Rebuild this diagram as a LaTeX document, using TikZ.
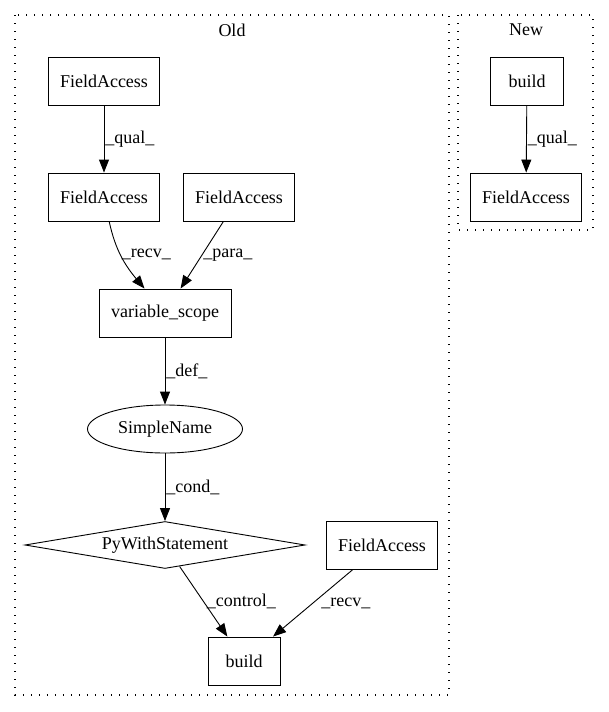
\documentclass[tikz,border=0pt]{standalone}
\usepackage{fontspec}
\setmainfont{Liberation Serif}
\usetikzlibrary{arrows.meta,shapes.geometric}
\begin{document}
\begin{tikzpicture}[x=1pt,y=1pt,font=\fontsize{18}{21}\selectfont,
  box/.style={draw,line width=0.9pt,minimum height=48pt,inner sep=0pt},
  edge/.style={line width=0.9pt,-{Triangle[length=13pt,width=10pt]}},
  lbl/.style={right,inner sep=1pt},
  cluster/.style={line width=1.2pt,dash pattern=on 1.2pt off 6.8pt}]
\useasboundingbox (0,0) rectangle (609,-712);
% clusters
\draw[cluster] (15,-15) rectangle (449,-695);
\draw[cluster] (458,-15) rectangle (593,-230);
\node (old) at (232,-30) {Old};
\node (new) at (526,-30) {New};
% Old
\node[box,minimum width=111pt] (fa1) at (104,-81) {FieldAccess};
\node[box,minimum width=111pt] (fa2) at (104,-197) {FieldAccess};
\node[box,minimum width=111pt] (fa3) at (239,-197) {FieldAccess};
\node[box,minimum width=132pt] (vs) at (165,-313) {variable\_scope};
\node[draw,ellipse,line width=0.9pt,minimum width=155pt,minimum height=48pt,inner sep=0pt] (sn) at (165,-429) {SimpleName};
\node[draw,diamond,line width=0.9pt,aspect=6,minimum width=280pt,minimum height=47pt,inner sep=0pt] (pws) at (165,-545) {PyWithStatement};
\node[box,minimum width=111pt] (fa4) at (382,-545) {FieldAccess};
\node[box,minimum width=72pt] (b1) at (244,-661) {build};
\draw[edge] (fa1) -- node[lbl] {\_qual\_} (fa2);
\draw[edge] (fa2) to[out=-78,in=130] node[lbl,pos=0.45] {\_recv\_} (vs);
\draw[edge] (fa3) -- node[lbl] {\_para\_} (vs);
\draw[edge] (vs) -- node[lbl] {\_def\_} (sn);
\draw[edge] (sn) -- node[lbl] {\_cond\_} (pws);
\draw[edge] (pws) -- node[lbl,xshift=2pt] {\_control\_} (b1);
\draw[edge] (fa4) -- node[lbl,xshift=7pt] {\_recv\_} (b1);
% New
\node[box,minimum width=73pt] (nb) at (527,-81) {build};
\node[box,minimum width=111pt] (nfa) at (526,-197) {FieldAccess};
\draw[edge] (nb) -- node[lbl] {\_qual\_} (nfa);
\end{tikzpicture}
\end{document}
